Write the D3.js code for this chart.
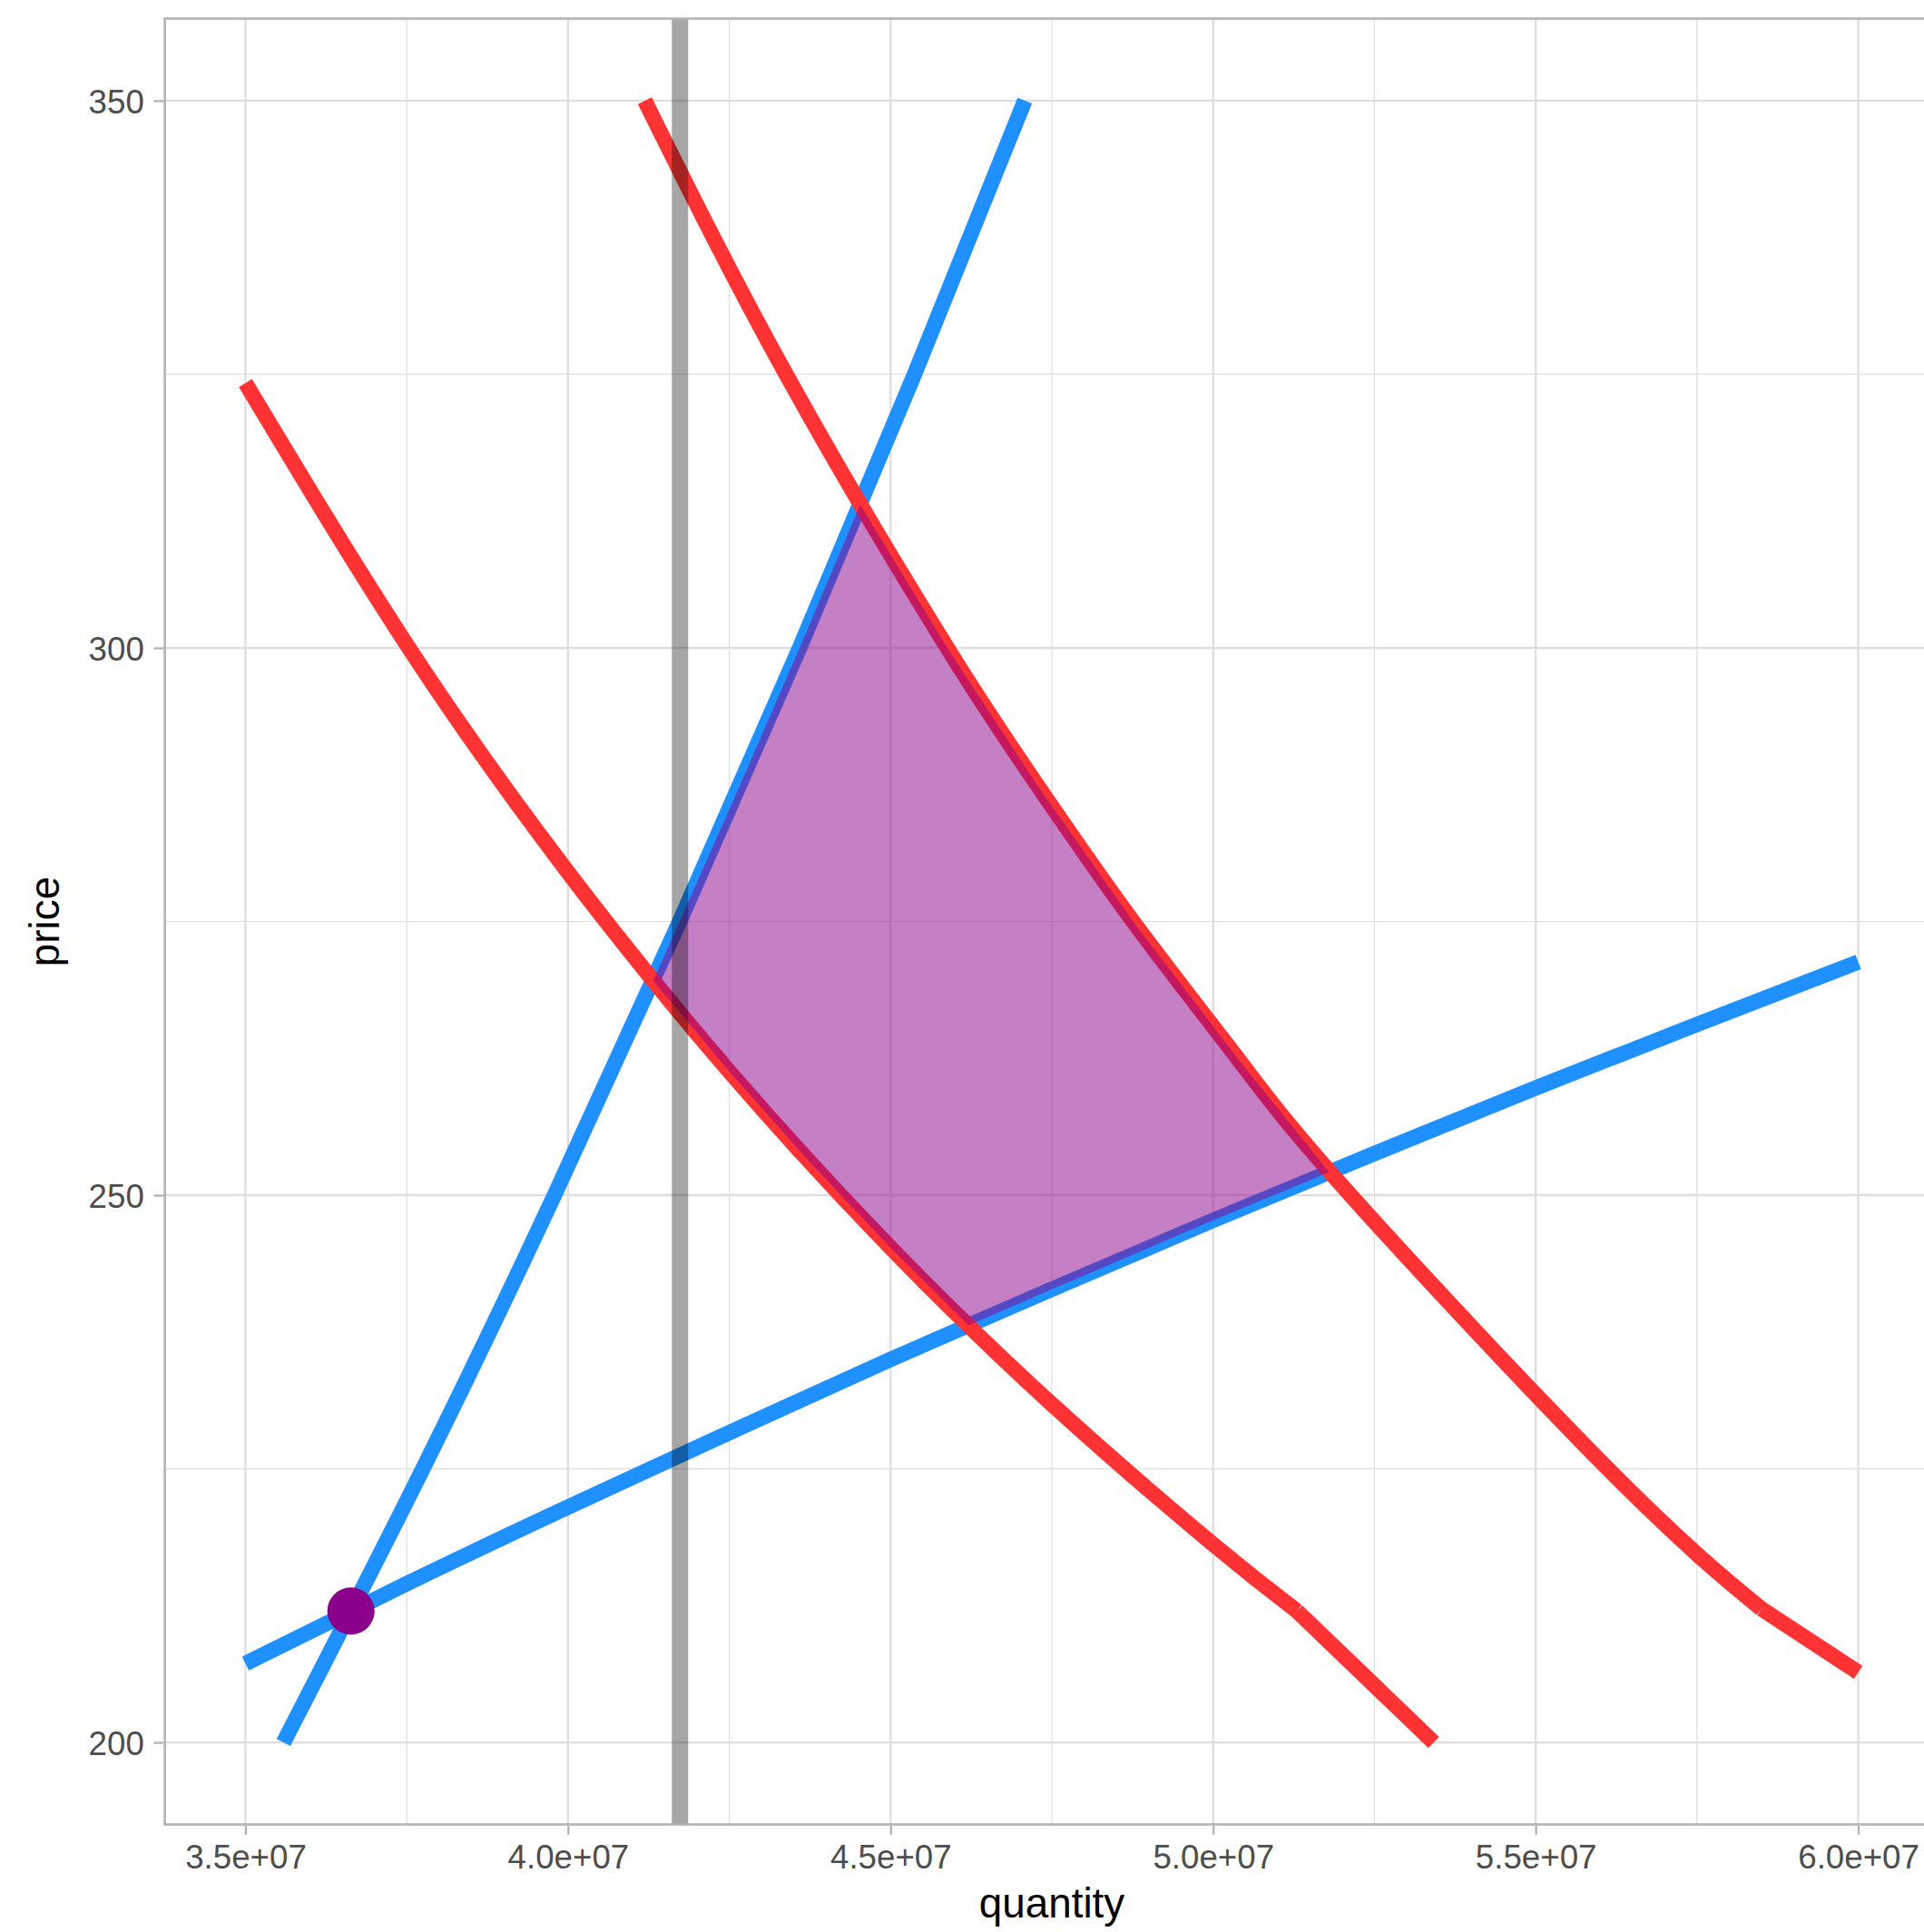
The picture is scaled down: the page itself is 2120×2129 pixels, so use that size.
<!DOCTYPE html>
<html>
<head>
<meta charset="utf-8">
<script src="https://cdn.jsdelivr.net/npm/d3@7"></script>
<style>
  html, body { margin: 0; padding: 0; background: #ffffff; }
  svg { display: block; }
  text { font-family: "Liberation Sans", Arial, Helvetica, sans-serif; }
</style>
</head>
<body>
<script>
// ---- data: quantity (q) and price (p) pairs ----
const xTicks = [3.5e7, 4.0e7, 4.5e7, 5.0e7, 5.5e7, 6.0e7];
const xTickLabels = ["3.5e+07", "4.0e+07", "4.5e+07", "5.0e+07", "5.5e+07", "6.0e+07"];
const xMinor = [3.75e7, 4.25e7, 4.75e7, 5.25e7, 5.75e7];
const yTicks = [200, 250, 300, 350];
const yTickLabels = ["200", "250", "300", "350"];
const yMinor = [225, 275, 325];

// supply curves (blue)
const supplySteep = [[3.559e7, 200], [3.775e7, 225], [3.979e7, 250],
                     [4.173e7, 275], [4.359e7, 300], [4.537e7, 325], [4.708e7, 350]];
const supplyFlat = [[3.5e7, 207.2], [3.75e7, 214.5], [4.0e7, 221.5], [4.25e7, 228.3],
                    [4.5e7, 235.0], [4.75e7, 241.4], [5.0e7, 247.7], [5.25e7, 253.8],
                    [5.5e7, 259.8], [5.75e7, 265.6], [6.0e7, 271.3]];

// demand curves (red), each with a short straight tail at low prices
const demandLow = [[3.5e7, 324.2], [3.75e7, 300.3], [4.0e7, 279.5], [4.25e7, 261.3],
                   [4.5e7, 245.2], [4.75e7, 230.9], [5.0e7, 218.1], [5.13e7, 212.0]];
const demandLowTail = [[5.13e7, 212.0], [5.342e7, 200]];
const demandHigh = [[4.119e7, 350], [4.338e7, 325], [4.588e7, 300], [4.727e7, 287.5],
                    [4.876e7, 275], [5.038e7, 262.5], [5.213e7, 250], [5.612e7, 225],
                    [5.850e7, 212.2]];
const demandHighTail = [[5.850e7, 212.2], [6.0e7, 206.4]];

// shaded region bounded by the four curves
const region = [[4.453e7, 313.1], [4.588e7, 300], [4.727e7, 287.5], [4.876e7, 275],
                [5.038e7, 262.5], [5.180e7, 252.1], [5.0e7, 247.7], [4.75e7, 241.4],
                [4.621e7, 238.1], [4.5e7, 245.2], [4.375e7, 253.0], [4.25e7, 261.3],
                [4.132e7, 269.6], [4.173e7, 275], [4.267e7, 287.5], [4.359e7, 300]];

const marker = [[3.6635e7, 212.0]];
const vline = [4.1736e7];

// ---- layout ----
const W = 2120, H = 2129;
const panel = { left: 181.6, right: 2136.4, top: 20.5, bottom: 2010.5 };

const x = d3.scaleLinear().domain([3.375e7, 6.125e7]).range([panel.left, panel.right]);
const y = d3.scaleLinear().domain([192.5, 357.5]).range([panel.bottom, panel.top]);

const svg = d3.select("body").append("svg")
  .attr("width", W).attr("height", H)
  .attr("viewBox", `0 0 ${W} ${H}`);

svg.append("rect").attr("width", W).attr("height", H).attr("fill", "#ffffff");

svg.append("defs").append("clipPath").attr("id", "panel-clip")
  .append("rect")
  .attr("x", panel.left).attr("y", panel.top)
  .attr("width", panel.right - panel.left).attr("height", panel.bottom - panel.top);

const grid = svg.append("g");
const gridColor = "#DEDEDE";

grid.selectAll("line.xminor").data(xMinor).join("line")
  .attr("x1", d => x(d)).attr("x2", d => x(d))
  .attr("y1", panel.top).attr("y2", panel.bottom)
  .attr("stroke", gridColor).attr("stroke-width", 1.2);
grid.selectAll("line.yminor").data(yMinor).join("line")
  .attr("x1", panel.left).attr("x2", panel.right)
  .attr("y1", d => y(d)).attr("y2", d => y(d))
  .attr("stroke", gridColor).attr("stroke-width", 1.2);
grid.selectAll("line.xmajor").data(xTicks).join("line")
  .attr("x1", d => x(d)).attr("x2", d => x(d))
  .attr("y1", panel.top).attr("y2", panel.bottom)
  .attr("stroke", gridColor).attr("stroke-width", 2.3);
grid.selectAll("line.ymajor").data(yTicks).join("line")
  .attr("x1", panel.left).attr("x2", panel.right)
  .attr("y1", d => y(d)).attr("y2", d => y(d))
  .attr("stroke", gridColor).attr("stroke-width", 2.3);

// ---- curves ----
const plot = svg.append("g").attr("clip-path", "url(#panel-clip)");

const curveLine = d3.line()
  .x(d => x(d[0])).y(d => y(d[1]))
  .curve(d3.curveNatural);
const straightLine = d3.line()
  .x(d => x(d[0])).y(d => y(d[1]));

const blue = "#1E90FF", red = "#FF3333", lw = 17;

function drawPath(data, gen, color) {
  plot.append("path").datum(data)
    .attr("d", gen)
    .attr("fill", "none")
    .attr("stroke", color)
    .attr("stroke-width", lw)
    .attr("stroke-linecap", "butt")
    .attr("stroke-linejoin", "round");
}

drawPath(supplySteep, curveLine, blue);
drawPath(supplyFlat, curveLine, blue);
drawPath(demandLow, curveLine, red);
drawPath(demandLowTail, straightLine, red);
drawPath(demandHigh, curveLine, red);
drawPath(demandHighTail, straightLine, red);

// shaded region
plot.append("path").datum(region)
  .attr("d", d3.line().x(d => x(d[0])).y(d => y(d[1])).curve(d3.curveLinearClosed))
  .attr("fill", "rgba(139, 0, 139, 0.5)")
  .attr("stroke", "none");

// vertical reference line
plot.selectAll("line.vref").data(vline).join("line")
  .attr("x1", d => x(d)).attr("x2", d => x(d))
  .attr("y1", panel.top).attr("y2", panel.bottom)
  .attr("stroke", "rgba(0, 0, 0, 0.35)")
  .attr("stroke-width", 18);

// marker at the crossing of the supply curves
plot.selectAll("circle.pt").data(marker).join("circle")
  .attr("cx", d => x(d[0])).attr("cy", d => y(d[1]))
  .attr("r", 26)
  .attr("fill", "#8B008B");

// ---- panel border ----
svg.append("rect")
  .attr("x", panel.left).attr("y", panel.top)
  .attr("width", panel.right - panel.left).attr("height", panel.bottom - panel.top)
  .attr("fill", "none").attr("stroke", "#B3B3B3").attr("stroke-width", 2.6);

// ---- axes ----
const tickColor = "#B3B3B3", labelColor = "#4D4D4D", tickFont = 36.7;

const xAxis = d3.axisBottom(x)
  .tickValues(xTicks)
  .tickFormat((d, i) => xTickLabels[i])
  .tickSize(10).tickPadding(11);
const gx = svg.append("g").attr("transform", `translate(0,${panel.bottom + 1.3})`).call(xAxis);
gx.select(".domain").remove();
gx.selectAll(".tick line").attr("stroke", tickColor).attr("stroke-width", 2.3);
gx.selectAll(".tick text").attr("fill", labelColor)
  .style("font-size", tickFont + "px")
  .style("font-family", '"Liberation Sans", Arial, Helvetica, sans-serif');

const yAxis = d3.axisLeft(y)
  .tickValues(yTicks)
  .tickFormat((d, i) => yTickLabels[i])
  .tickSize(11).tickPadding(10.5);
const gy = svg.append("g").attr("transform", `translate(${panel.left - 1.3},0)`).call(yAxis);
gy.select(".domain").remove();
gy.selectAll(".tick line").attr("stroke", tickColor).attr("stroke-width", 2.3);
gy.selectAll(".tick text").attr("fill", labelColor)
  .attr("dy", "0.38em")
  .style("font-size", tickFont + "px")
  .style("font-family", '"Liberation Sans", Arial, Helvetica, sans-serif');

// axis titles
svg.append("text")
  .attr("x", (panel.left + panel.right) / 2).attr("y", 2113)
  .attr("text-anchor", "middle")
  .attr("fill", "#000000")
  .style("font-size", "45.8px")
  .text("quantity");

svg.append("text")
  .attr("transform", `translate(65,${(panel.top + panel.bottom) / 2}) rotate(-90)`)
  .attr("text-anchor", "middle")
  .attr("fill", "#000000")
  .style("font-size", "45.8px")
  .text("price");
</script>
</body>
</html>
